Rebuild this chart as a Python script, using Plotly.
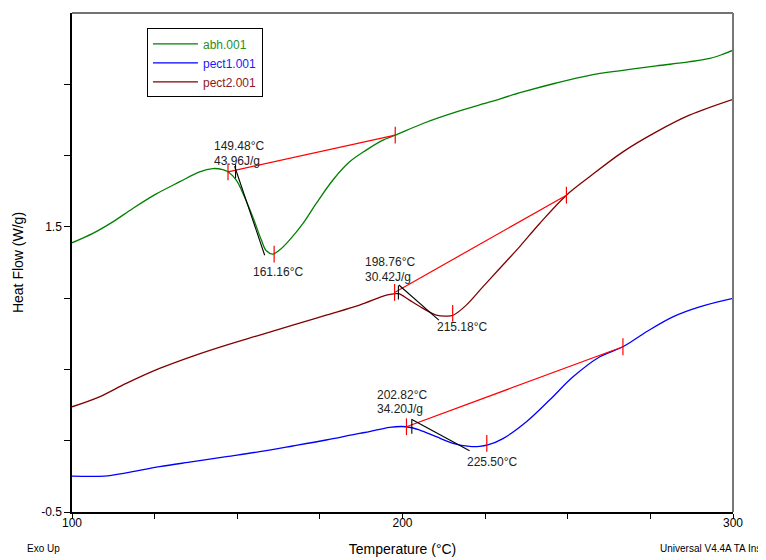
import plotly.graph_objects as go

# ---- data ----
abh_T = [100.0, 106.3, 112.35, 118.4, 125.5, 132.5, 138.6, 142.6, 145.6, 147.2, 149.7, 152.2,
         154.7, 157.3, 158.8, 160.8, 162.8, 165.8, 169.9, 173.9, 178.9, 184.0, 189.0, 194.1,
         197.8, 206.2, 216.3, 226.4, 236.4, 246.5, 256.6, 266.7, 276.8, 286.6, 293.0, 297.0, 300.0]
abh_HF = [1.388, 1.454, 1.535, 1.629, 1.731, 1.815, 1.886, 1.909, 1.902, 1.886, 1.827, 1.710,
          1.570, 1.407, 1.332, 1.309, 1.337, 1.407, 1.524, 1.664, 1.827, 1.956, 2.038, 2.108,
          2.143, 2.225, 2.306, 2.376, 2.446, 2.509, 2.563, 2.598, 2.629, 2.657, 2.681, 2.711, 2.739]

pect1_T = [100.0, 109.8, 116.4, 126.5, 136.6, 146.7, 156.8, 166.8, 176.9, 187.0, 190.0, 196.1,
           201.2, 205.2, 210.2, 215.3, 220.3, 223.3, 225.8, 230.4, 237.5, 244.5, 251.6,
           259.7, 266.7, 273.8, 281.8, 289.9, 300.0]
pect1_HF = [-0.248, -0.248, -0.225, -0.182, -0.147, -0.112, -0.077, -0.037, 0.005, 0.052, 0.063,
            0.094, 0.098, 0.075, 0.028, -0.018, -0.040, -0.040, -0.030, 0.015, 0.133,
            0.285, 0.448, 0.589, 0.659, 0.764, 0.869, 0.939, 0.998]

pect2_T = [100.0, 108.3, 116.4, 126.5, 136.6, 146.7, 156.8, 166.8, 176.9, 187.0, 195.1, 198.1,
           199.1, 202.1, 206.2, 210.2, 213.3, 215.3, 219.3, 224.3, 229.4, 235.4, 241.5, 249.6,
           256.6, 266.7, 276.8, 286.8, 300.0]
pect2_HF = [0.238, 0.308, 0.402, 0.507, 0.594, 0.671, 0.741, 0.811, 0.881, 0.951, 1.021, 1.032,
            1.030, 0.986, 0.928, 0.881, 0.874, 0.880, 0.951, 1.079, 1.208, 1.360, 1.524, 1.722,
            1.851, 2.026, 2.166, 2.283, 2.395]

# integration baselines (start, end)
abh_base_T = [147.2, 197.8]
abh_base_HF = [1.886, 2.143]
pect2_base_T = [197.6, 249.6]
pect2_base_HF = [1.040, 1.722]
pect1_base_T = [201.2, 266.7]
pect1_base_HF = [0.098, 0.659]

# onset tangents (start, end)
abh_tan_T = [149.2, 158.3]
abh_tan_HF = [1.925, 1.301]
pect2_tan_T = [198.9, 211.0]
pect2_tan_HF = [1.092, 0.846]
pect1_tan_T = [202.7, 220.3]
pect1_tan_HF = [0.150, -0.070]

# peak / limit markers
marker_T = [147.2, 197.8, 161.16, 197.6, 249.6, 215.18, 201.2, 266.7, 225.5]
marker_HF = [1.886, 2.143, 1.309, 1.040, 1.722, 0.893, 0.098, 0.659, -0.018]
onset_T = [149.48, 198.76, 202.82]
onset_HF = [1.890, 1.040, 0.098]

labels = ["149.48°C", "43.96J/g", "161.16°C", "198.76°C", "30.42J/g", "215.18°C",
          "202.82°C", "34.20J/g", "225.50°C"]
label_T = [142.4, 142.4, 154.2, 188.0, 188.0, 209.7, 191.6, 191.6, 218.8]
label_HF = [2.065, 1.965, 1.185, 1.255, 1.149, 0.799, 0.320, 0.219, -0.147]

x_ticks = [100, 125, 150, 175, 200, 225, 250, 275, 300]
x_ticktext = ["100", "", "", "", "200", "", "", "", "300"]
y_ticks = [-0.5, 0.0, 0.5, 1.0, 1.5, 2.0, 2.5]
y_ticktext = ["-0.5", "", "", "", "1.5", "", ""]

GREEN = "#008000"
BLUE = "#0000ff"
MAROON = "#800000"
RED = "#ff0000"
FONT = "Liberation Sans, Arial, sans-serif"

fig = go.Figure()
fig.add_trace(go.Scatter(x=abh_T, y=abh_HF, mode="lines", line=dict(color=GREEN, width=1.3),
                         line_shape="spline",
                         name='<span style="color:#1f8f1f">abh.001</span>'))
fig.add_trace(go.Scatter(x=pect1_T, y=pect1_HF, mode="lines", line=dict(color=BLUE, width=1.3),
                         line_shape="spline",
                         name='<span style="color:#1a1aff">pect1.001</span>'))
fig.add_trace(go.Scatter(x=pect2_T, y=pect2_HF, mode="lines", line=dict(color=MAROON, width=1.3),
                         line_shape="spline",
                         name='<span style="color:#8b1a1a">pect2.001</span>'))

for bt, bh in [(abh_base_T, abh_base_HF), (pect2_base_T, pect2_base_HF), (pect1_base_T, pect1_base_HF)]:
    fig.add_trace(go.Scatter(x=bt, y=bh, mode="lines", line=dict(color=RED, width=1.2),
                             showlegend=False, hoverinfo="skip"))
for tt, th in [(abh_tan_T, abh_tan_HF), (pect2_tan_T, pect2_tan_HF), (pect1_tan_T, pect1_tan_HF)]:
    fig.add_trace(go.Scatter(x=tt, y=th, mode="lines", line=dict(color="black", width=1.1),
                             showlegend=False, hoverinfo="skip"))

fig.add_trace(go.Scatter(x=marker_T, y=marker_HF, mode="markers",
                         marker=dict(symbol="line-ns", size=12, line=dict(color=RED, width=1.2)),
                         showlegend=False, hoverinfo="skip"))
fig.add_trace(go.Scatter(x=onset_T, y=onset_HF, mode="markers",
                         marker=dict(symbol="line-ns", size=10, line=dict(color="black", width=1.1)),
                         showlegend=False, hoverinfo="skip"))

for txt, tx, ty in zip(labels, label_T, label_HF):
    fig.add_annotation(x=tx, y=ty, text=txt, showarrow=False, xanchor="left", yanchor="middle",
                       font=dict(family=FONT, size=12, color="#222222"))

fig.add_annotation(xref="paper", yref="paper", x=-0.071, y=-0.074, text="Exo Up",
                   showarrow=False, xanchor="left", yanchor="middle",
                   font=dict(family=FONT, size=10, color="black"))
fig.add_annotation(xref="paper", yref="paper", x=0.886, y=-0.074,
                   text="Universal V4.4A TA Instruments",
                   showarrow=False, xanchor="left", yanchor="middle",
                   font=dict(family=FONT, size=10, color="black"))

# the page body adds an 8px margin, so the figure is 8px smaller than the window
fig.update_layout(
    width=758, height=552,
    margin=dict(l=64, r=33, t=5, b=48),
    paper_bgcolor="white", plot_bgcolor="white",
    font=dict(family=FONT, size=12, color="black"),
    showlegend=True,
    legend=dict(x=0.1134, y=0.969, xanchor="left", yanchor="top",
                bordercolor="black", borderwidth=1, bgcolor="white",
                font=dict(family=FONT, size=12), tracegroupgap=0,
                itemwidth=45),
    shapes=[
        dict(type="line", xref="paper", yref="paper", x0=0, x1=1, y0=1, y1=1,
             line=dict(color="#444444", width=1.5)),
        dict(type="line", xref="paper", yref="paper", x0=1, x1=1, y0=0, y1=1,
             line=dict(color="#777777", width=2)),
    ],
)
fig.update_xaxes(range=[100, 300], tickvals=x_ticks, ticktext=x_ticktext,
                 ticks="outside", ticklen=5, tickcolor="black", showgrid=False, zeroline=False,
                 showline=True, linecolor="black", linewidth=1.5,
                 tickfont=dict(family=FONT, size=12), ticklabelstandoff=-6,
                 title=dict(text="Temperature (°C)", font=dict(family=FONT, size=14), standoff=15),
                 automargin=False)
fig.update_yaxes(range=[-0.5, 3.0], tickvals=y_ticks, ticktext=y_ticktext,
                 ticks="outside", ticklen=6, tickcolor="black", showgrid=False, zeroline=False,
                 showline=True, linecolor="black", linewidth=1.5,
                 tickfont=dict(family=FONT, size=12),
                 title=dict(text="Heat Flow (W/g)", font=dict(family=FONT, size=14), standoff=14),
                 automargin=False)

fig.write_html("out.html")
